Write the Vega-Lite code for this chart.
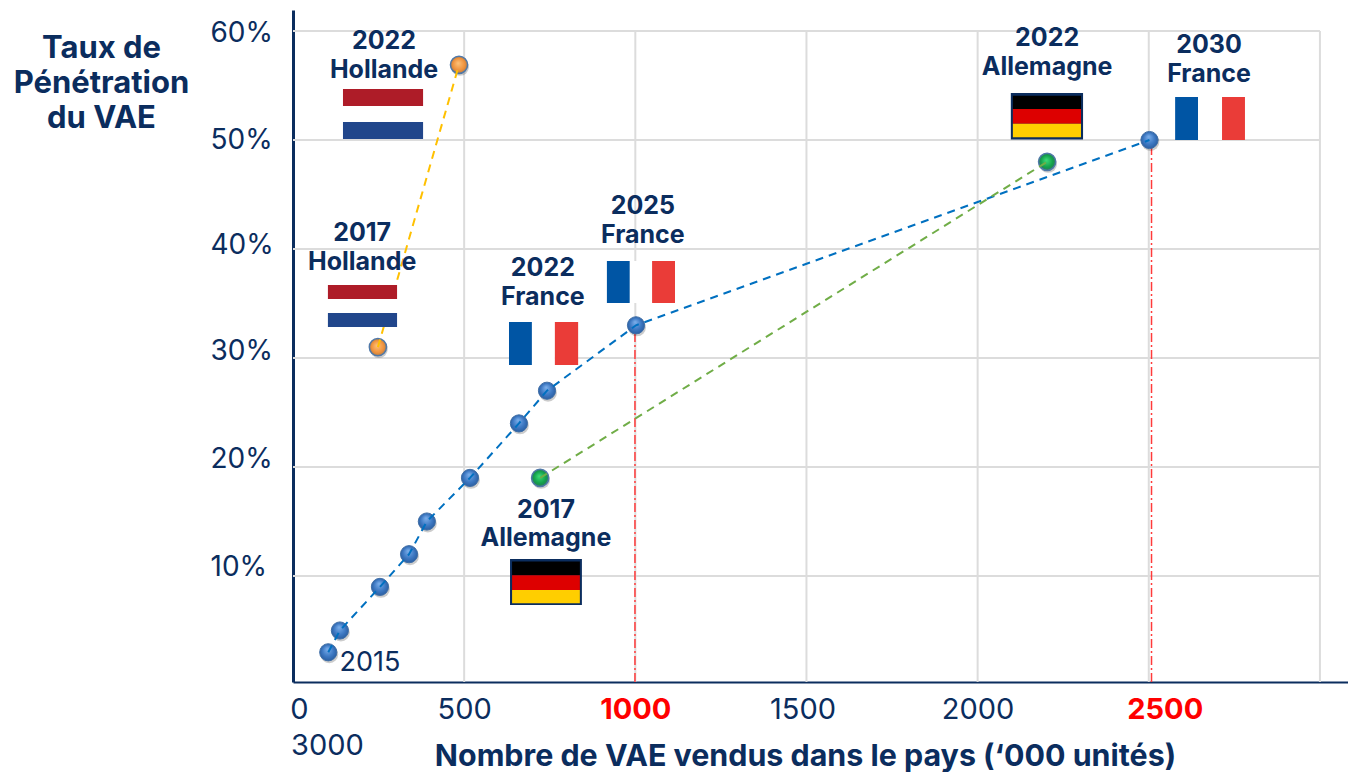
{
"$schema":"https://vega.github.io/schema/vega-lite/v6.json",
"autosize":"none","width":1055,"height":672,
"padding":{"left":293,"top":10,"right":0,"bottom":90},
"background":"white",
"config":{"view":{"stroke":null},"font":"Inter"},
"datasets":{
"points":[
{"pays":"France","annee":2015,"x":103,"y":3},{"pays":"France","annee":2016,"x":137,"y":5},{"pays":"France","annee":2017,"x":254,"y":9},{"pays":"France","annee":2018,"x":339,"y":12},{"pays":"France","annee":2019,"x":391,"y":15},{"pays":"France","annee":2020,"x":517,"y":19},{"pays":"France","annee":2021,"x":660,"y":24},{"pays":"France","annee":2022,"x":742,"y":27},{"pays":"France","annee":2025,"x":1002,"y":33},{"pays":"France","annee":2030,"x":2502,"y":50},
{"pays":"Hollande","annee":2017,"x":248,"y":31},{"pays":"Hollande","annee":2022,"x":485,"y":56.9},
{"pays":"Allemagne","annee":2017,"x":722,"y":19},{"pays":"Allemagne","annee":2022,"x":2203,"y":48}],
"flags":[
{"c":"Rouge NL","x":146,"x2":380,"y":54.68,"y2":53.12},{"c":"Blanc","x":146,"x2":380,"y":53.12,"y2":51.65},{"c":"Bleu NL","x":146,"x2":380,"y":51.65,"y2":50.09},
{"c":"Rouge NL","x":102,"x2":304,"y":36.7,"y2":35.41},{"c":"Blanc","x":102,"x2":304,"y":35.41,"y2":34.13},{"c":"Bleu NL","x":102,"x2":304,"y":34.13,"y2":32.84},
{"c":"Bleu FR","x":631,"x2":698,"y":33.3,"y2":29.36},{"c":"Blanc","x":698,"x2":765,"y":33.3,"y2":29.36},{"c":"Rouge FR","x":765,"x2":833,"y":33.3,"y2":29.36},
{"c":"Bleu FR","x":917,"x2":984,"y":38.9,"y2":35.05},{"c":"Blanc","x":984,"x2":1049,"y":38.9,"y2":35.05},{"c":"Rouge FR","x":1049,"x2":1116,"y":38.9,"y2":35.05},
{"c":"Bleu FR","x":2577,"x2":2644,"y":53.94,"y2":50},{"c":"Blanc","x":2644,"x2":2714,"y":53.94,"y2":50},{"c":"Rouge FR","x":2714,"x2":2781,"y":53.94,"y2":50},
{"c":"Cadre","x":634,"x2":844,"y":11.56,"y2":7.34},{"c":"Noir","x":640,"x2":838,"y":11.33,"y2":10.06},{"c":"Rouge DE","x":640,"x2":838,"y":10.06,"y2":8.72},{"c":"Jaune DE","x":640,"x2":838,"y":8.72,"y2":7.5},
{"c":"Cadre","x":2097,"x2":2308,"y":54.31,"y2":50.05},{"c":"Noir","x":2103,"x2":2302,"y":54.06,"y2":52.84},{"c":"Rouge DE","x":2103,"x2":2302,"y":52.84,"y2":51.5},{"c":"Jaune DE","x":2103,"x2":2302,"y":51.5,"y2":50.25}],
"labels":[
{"t":"2022","x":266,"y":59.17},{"t":"Hollande","x":266,"y":56.51},
{"t":"2017","x":202,"y":41.56},{"t":"Hollande","x":202,"y":38.9},
{"t":"2022","x":730,"y":38.35},{"t":"France","x":730,"y":35.69},
{"t":"2025","x":1022,"y":44.04},{"t":"France","x":1022,"y":41.38},
{"t":"2022","x":2203,"y":59.45},{"t":"Allemagne","x":2203,"y":56.79},
{"t":"2030","x":2676,"y":58.81},{"t":"France","x":2676,"y":56.15},
{"t":"2017","x":739,"y":16.15},{"t":"Allemagne","x":739,"y":13.58}]
},
"encoding":{
"x":{"field":"x","type":"quantitative","scale":{"domain":[0,3082],"nice":false,"zero":false},
 "axis":{"values":[0,500,1000,1500,2000,2500,3000],"format":"d","grid":false,"ticks":false,"domainColor":"#0b2d5e","domainWidth":2,
  "labelFont":"Inter","labelFontSize":29,"labelPadding":13,"labelOverlap":false,"labelBound":false,"labelFlush":false,
  "labelColor":{"condition":{"test":"datum.value==1000||datum.value==2500","value":"#ff0000"},"value":"#0b2d5e"},
  "labelFontWeight":{"condition":{"test":"datum.value==1000||datum.value==2500","value":"bold"},"value":"normal"},
  "encoding":{"labels":{"dx":{"value":{"signal":"datum.value==0?6:datum.value==1500?-4:datum.value==2500?16:datum.value==3000?-993:0"}},"dy":{"value":{"signal":"datum.value==3000?36:0"}}}},
  "title":"Nombre de VAE vendus dans le pays (‘000 unités)","titleFont":"Inter","titleFontSize":30.4,"titleFontWeight":"bold","titleColor":"#0b2d5e","titleX":512,"titleY":74,"titleAlign":"center","titleBaseline":"middle"}},
"y":{"field":"y","type":"quantitative","scale":{"domain":[0.275,61.93],"nice":false,"zero":false},
 "axis":{"values":[10,20,30,40,50,60],"grid":false,"ticks":false,"domainColor":"#0b2d5e","domainWidth":3,
  "labelExpr":"datum.value+'%'","labelFont":"Inter","labelFontSize":28,"labelColor":"#0b2d5e","labelAlign":"left","labelBaseline":"middle","labelPadding":83,"labelOverlap":false,"labelBound":false,"labelFlush":false,
  "encoding":{"labels":{"dy":{"value":{"signal":"datum.value==60?2:datum.value==40?-4:datum.value==30?-7:datum.value==20?-8:datum.value==10?-9:0"}}}},
  "title":["Taux de","Pénétration","du VAE"],"titleFont":"Inter","titleFontSize":31,"titleFontWeight":"bold","titleColor":"#0b2d5e","titleAngle":0,"titleX":-192,"titleY":38,"titleAlign":"center","titleBaseline":"middle","titleLineHeight":35}}
},
"resolve":{"scale":{"color":"independent"}},
"layer":[
{"data":{"values":[{"y":10,"x":0,"x2":3000},{"y":20,"x":0,"x2":3000},{"y":30,"x":0,"x2":3000},{"y":40,"x":0,"x2":3000},{"y":50,"x":0,"x2":3000},{"y":60,"x":0,"x2":3000}]},
 "mark":{"type":"rule","color":"#dcdcdc","strokeWidth":2},"encoding":{"x2":{"field":"x2"}}},
{"data":{"values":[{"x":500,"y":0.275,"y2":60},{"x":1000,"y":0.275,"y2":60},{"x":1500,"y":0.275,"y2":60},{"x":2000,"y":0.275,"y2":60},{"x":2500,"y":0.275,"y2":60},{"x":3000,"y":0.275,"y2":60}]},
 "mark":{"type":"rule","color":"#dcdcdc","strokeWidth":2},"encoding":{"y2":{"field":"y2"}}},
{"data":{"values":[{"x":999,"y":0.275,"y2":33},{"x":2508,"y":0.275,"y2":50}]},
 "mark":{"type":"rule","color":"#ff3b3b","strokeWidth":1.5,"strokeDash":[9,3,2,3]},"encoding":{"y2":{"field":"y2"}}},
{"data":{"name":"points"},"mark":{"type":"circle","size":320,"fill":"#000000","fillOpacity":0.2,"xOffset":1,"yOffset":2,"stroke":null}},
{"data":{"name":"points"},"transform":[{"filter":"datum.pays=='France'"}],
 "mark":{"type":"circle","size":295,"opacity":1,"fillOpacity":1,"stroke":"#3f6ea6","strokeWidth":1,"fill":{"gradient":"radial","x1":0.45,"y1":0.3,"r1":0,"x2":0.5,"y2":0.5,"r2":0.55,"stops":[{"offset":0,"color":"#7db0ec"},{"offset":0.6,"color":"#3d78c2"},{"offset":1,"color":"#285a9c"}]}}},
{"data":{"name":"points"},"transform":[{"filter":"datum.pays=='Hollande'"}],
 "mark":{"type":"circle","size":295,"opacity":1,"fillOpacity":1,"stroke":"#4f78a8","strokeWidth":1.5,"fill":{"gradient":"radial","x1":0.45,"y1":0.4,"r1":0,"x2":0.5,"y2":0.5,"r2":0.5,"stops":[{"offset":0,"color":"#fdc27a"},{"offset":0.7,"color":"#f0923c"},{"offset":1,"color":"#b77d45"}]}}},
{"data":{"name":"points"},"transform":[{"filter":"datum.pays=='Allemagne'"}],
 "mark":{"type":"circle","size":295,"opacity":1,"fillOpacity":1,"stroke":"#4f78a8","strokeWidth":1.5,"fill":{"gradient":"radial","x1":0.45,"y1":0.4,"r1":0,"x2":0.5,"y2":0.5,"r2":0.5,"stops":[{"offset":0,"color":"#3fdc78"},{"offset":0.7,"color":"#12a04a"},{"offset":1,"color":"#2f7a5e"}]}}},
{"data":{"name":"points"},"mark":{"type":"line","strokeWidth":2,"strokeDash":[8,6]},
 "encoding":{"color":{"field":"pays","type":"nominal","legend":null,"scale":{"domain":["France","Hollande","Allemagne"],"range":["#0070c0","#ffc000","#70ad47"]}},"order":{"field":"annee"}}},
{"data":{"name":"flags"},"mark":{"type":"rect"},
 "encoding":{"x2":{"field":"x2"},"y2":{"field":"y2"},
  "color":{"field":"c","type":"nominal","legend":null,"scale":{"domain":["Rouge NL","Blanc","Bleu NL","Bleu FR","Rouge FR","Cadre","Noir","Rouge DE","Jaune DE"],"range":["#ae1c28","#ffffff","#21468b","#0055a4","#ea3c38","#0b2d5e","#000000","#dd0000","#ffce00"]}}}},
{"data":{"name":"labels"},"mark":{"type":"text","font":"Inter","fontSize":25,"fontWeight":"bold","color":"#0b2d5e","align":"center","baseline":"middle","dy":1},
 "encoding":{"text":{"field":"t"}}},
{"data":{"values":[{"t":"2015","x":225,"y":2.02}]},"mark":{"type":"text","font":"Inter","fontSize":27,"color":"#0b2d5e","align":"center","baseline":"middle"},
 "encoding":{"text":{"field":"t"}}}
]
}
